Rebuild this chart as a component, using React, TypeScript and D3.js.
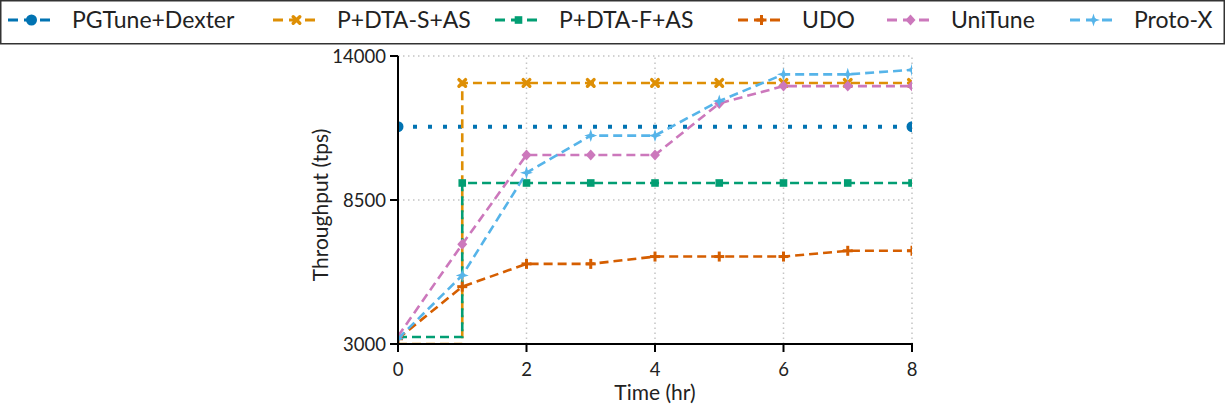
import React from 'react';
import * as d3 from 'd3';

const hours = [0, 1, 2, 3, 4, 5, 6, 7, 8];
const pgtuneHours = [0, 8];
const pgtune = [11300, 11300];
const pdtaS = [3000, 12970, 12970, 12970, 12970, 12970, 12970, 12970, 12970];
const pdtaF = [3270, 9150, 9150, 9150, 9150, 9150, 9150, 9150, 9150];
const udo = [3200, 5190, 6060, 6060, 6340, 6340, 6340, 6560, 6560];
const unitune = [3300, 6810, 10220, 10220, 10220, 12190, 12850, 12850, 12850];
const protox = [3200, 5620, 9540, 10960, 10960, 12280, 13300, 13300, 13470];

const xTicks = [0, 2, 4, 6, 8];
const yTicks = [3000, 8500, 14000];

const FONT = 'Lato, "Open Sans", sans-serif';

type Marker = 'circle' | 'x' | 'square' | 'plus' | 'diamond' | 'star4';

interface Series {
  name: string;
  xs: number[];
  ys: number[];
  color: string;
  marker: Marker;
  dotted?: boolean;
  step?: boolean;
  markFrom: number;
}

const series: Series[] = [
  { name: 'PGTune+Dexter', xs: pgtuneHours, ys: pgtune, color: '#0173b2', marker: 'circle', dotted: true, markFrom: 0 },
  { name: 'P+DTA-S+AS', xs: hours, ys: pdtaS, color: '#de8f05', marker: 'x', step: true, markFrom: 1 },
  { name: 'P+DTA-F+AS', xs: hours, ys: pdtaF, color: '#029e73', marker: 'square', step: true, markFrom: 1 },
  { name: 'UDO', xs: hours, ys: udo, color: '#d55e00', marker: 'plus', markFrom: 0 },
  { name: 'UniTune', xs: hours, ys: unitune, color: '#cc78bc', marker: 'diamond', markFrom: 0 },
  { name: 'Proto-X', xs: hours, ys: protox, color: '#56b4e9', marker: 'star4', markFrom: 0 },
];

// legend handle starts (layout only)
const legendX = [8, 273, 495, 738, 887, 1070];

function MarkerShape({ kind, x, y, color }: { kind: Marker; x: number; y: number; color: string }) {
  const t = `translate(${x},${y})`;
  switch (kind) {
    case 'circle':
      return <circle cx={x} cy={y} r={5.5} fill={color} />;
    case 'square':
      return <rect x={x - 3.8} y={y - 3.8} width={7.6} height={7.6} fill={color} />;
    case 'diamond':
      return <path transform={t} d="M0,-5.5L5,0L0,5.5L-5,0Z" fill={color} />;
    case 'x':
      return (
        <g transform={t} stroke={color} strokeWidth={3.4} strokeLinecap="round">
          <line x1={-3.3} y1={-3.3} x2={3.3} y2={3.3} />
          <line x1={-3.3} y1={3.3} x2={3.3} y2={-3.3} />
        </g>
      );
    case 'plus':
      return (
        <g transform={t} stroke={color} strokeWidth={3}>
          <line x1={-5} y1={0} x2={5} y2={0} />
          <line x1={0} y1={-5} x2={0} y2={5} />
        </g>
      );
    case 'star4':
      return <path transform={t} d="M0,-6.5L1.6,-1.6L6.5,0L1.6,1.6L0,6.5L-1.6,1.6L-6.5,0L-1.6,-1.6Z" fill={color} />;
  }
}

export default function App() {
  const width = 1225;
  const height = 411;
  const x = d3.scaleLinear().domain([0, 8]).range([398, 912]);
  const y = d3.scaleLinear().domain([3000, 14000]).range([344, 56]);
  const [x0, x1] = x.range();
  const [yb, yt] = y.range();

  return (
    <svg width={width} height={height} style={{ position: 'absolute', left: 0, top: 0 }} fontFamily={FONT}>
      <defs>
        <clipPath id="plot">
          <rect x={x0} y={yt} width={x1 - x0} height={yb - yt} />
        </clipPath>
      </defs>
      <rect width={width} height={height} fill="#fff" />

      {/* grid */}
      {xTicks.filter(v => v > 0).map(v => (
        <line key={'gx' + v} x1={x(v)} x2={x(v)} y1={yb} y2={yt} stroke="#c4c4c4" strokeWidth={1.5} strokeDasharray="1.5,3.5" />
      ))}
      {yTicks.filter(v => v > 3000).map(v => (
        <line key={'gy' + v} x1={x0} x2={x1} y1={y(v)} y2={y(v)} stroke="#c4c4c4" strokeWidth={1.5} strokeDasharray="1.5,3.5" />
      ))}

      {/* series */}
      <g clipPath="url(#plot)">
        {series.map(s => {
          const pts = s.xs.map((h, i) => [h, s.ys[i]] as [number, number]);
          const line = d3.line<[number, number]>()
            .x(d => x(d[0]))
            .y(d => y(d[1]))
            .curve(s.step ? d3.curveStepAfter : d3.curveLinear);
          return (
            <g key={s.name}>
              <path d={line(pts) || ''} fill="none" stroke={s.color}
                strokeWidth={s.dotted ? 4 : 2.6}
                strokeDasharray={s.dotted ? '4,11' : '9,5'} />
              {pts.slice(s.markFrom).map((p, i) => (
                <MarkerShape key={i} kind={s.marker} x={x(p[0])} y={y(p[1])} color={s.color} />
              ))}
            </g>
          );
        })}
      </g>

      {/* axes */}
      <line x1={x0} x2={x0} y1={yt} y2={yb + 1} stroke="#000" strokeWidth={2} />
      <line x1={x0 - 1} x2={x1 + 1} y1={yb} y2={yb} stroke="#000" strokeWidth={2} />
      {yTicks.map(v => (
        <g key={'yt' + v}>
          <line x1={x0 - 8} x2={x0} y1={y(v)} y2={y(v)} stroke="#000" strokeWidth={2} />
          <text x={x0 - 12} y={y(v)} dy="0.36em" textAnchor="end" fontSize={18.5} fill="#222">{v}</text>
        </g>
      ))}
      {xTicks.map(v => (
        <g key={'xt' + v}>
          <line x1={x(v)} x2={x(v)} y1={yb} y2={yb + 8} stroke="#000" strokeWidth={2} />
          <text x={x(v)} y={yb + 32} textAnchor="middle" fontSize={18.5} fill="#222">{v}</text>
        </g>
      ))}
      <text x={(x0 + x1) / 2} y={400} textAnchor="middle" fontSize={21} fill="#222">Time (hr)</text>
      <text transform={`translate(328,${(yt + yb) / 2 + 5}) rotate(-90)`} textAnchor="middle" fontSize={21} fill="#222">Throughput (tps)</text>

      {/* legend */}
      <rect x={0.75} y={0.75} width={width - 1.5} height={43} fill="#fff" stroke="#333" strokeWidth={1.5} />
      {series.map((s, i) => {
        const lx = legendX[i];
        return (
          <g key={'lg' + s.name}>
            <line x1={lx} x2={lx + 47} y1={20} y2={20} stroke={s.color}
              strokeWidth={3} strokeDasharray="10,6" strokeDashoffset={0} />
            <MarkerShape kind={s.marker} x={lx + 23.5} y={20} color={s.color} />
            <text x={lx + 64} y={20} dy="0.36em" fontSize={23} fill="#222">{s.name}</text>
          </g>
        );
      })}
    </svg>
  );
}
